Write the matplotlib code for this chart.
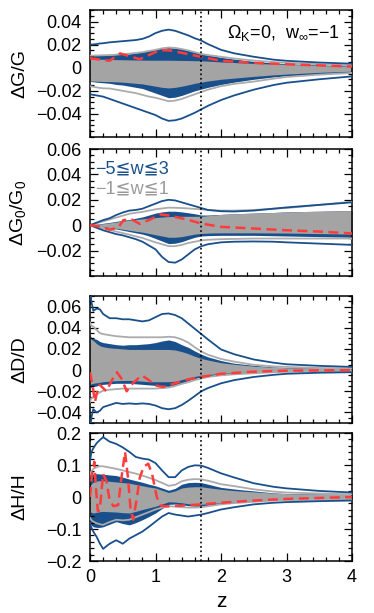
import matplotlib
matplotlib.use("Agg")
import matplotlib.pyplot as plt
from matplotlib.ticker import MultipleLocator, FixedLocator, FuncFormatter

plt.rcParams['font.family'] = ['Liberation Sans', 'DejaVu Sans']
plt.rcParams['mathtext.default'] = 'regular'

# common redshift grid of the bands
z = [0, 0.02, 0.05, 0.1, 0.15, 0.2, 0.3, 0.4, 0.5, 0.6, 0.7, 0.8, 0.9, 1.0, 1.1,
     1.2, 1.3, 1.4, 1.5, 1.6, 1.7, 1.8, 2.0, 2.2, 2.5, 2.8, 3.0, 3.5, 4.0]

# ---- panel 1: dG/G
g_blue_hi = [0.020, 0.0201, 0.0202, 0.0205, 0.021, 0.0212, 0.022, 0.0225, 0.023, 0.0235, 0.024, 0.025, 0.027, 0.030, 0.032,
             0.033, 0.032, 0.030, 0.028, 0.0255, 0.0235, 0.0205, 0.0155, 0.0125, 0.0095, 0.007, 0.006, 0.0045, 0.0035]
g_blue_lo = [-0.023, -0.0232, -0.0235, -0.024, -0.0245, -0.025, -0.027, -0.029, -0.031, -0.033, -0.035, -0.037, -0.039, -0.041, -0.044,
             -0.046, -0.0455, -0.044, -0.0415, -0.039, -0.036, -0.033, -0.028, -0.024, -0.019, -0.015, -0.013, -0.010, -0.0075]
g_gray_hi = [0.0105, 0.0105, 0.0105, 0.0106, 0.0107, 0.0108, 0.011, 0.0113, 0.0118, 0.0122, 0.0128, 0.0135, 0.0145, 0.0155, 0.0168,
             0.0175, 0.0172, 0.0162, 0.015, 0.0135, 0.012, 0.011, 0.0095, 0.008, 0.0062, 0.005, 0.0042, 0.003, 0.002]
g_gray_lo = [-0.016, -0.0162, -0.0165, -0.017, -0.0175, -0.0178, -0.018, -0.019, -0.020, -0.021, -0.022, -0.0235, -0.025, -0.026, -0.0275,
             -0.029, -0.0285, -0.027, -0.025, -0.023, -0.021, -0.019, -0.016, -0.014, -0.012, -0.0095, -0.008, -0.006, -0.0045]
g_bfill_hi = [0.011, 0.011, 0.011, 0.011, 0.011, 0.011, 0.011, 0.0115, 0.0118, 0.012, 0.0128, 0.0135, 0.015, 0.016, 0.017,
              0.0175, 0.017, 0.0165, 0.015, 0.0135, 0.012, 0.011, 0.009, 0.0075, 0.0055, 0.0042, 0.0035, 0.0025, 0.0015]
g_bfill_lo = [-0.012, -0.012, -0.0122, -0.0125, -0.0128, -0.013, -0.0135, -0.0145, -0.015, -0.016, -0.017, -0.018, -0.020, -0.022, -0.024,
              -0.026, -0.0255, -0.024, -0.022, -0.020, -0.0185, -0.017, -0.0145, -0.0125, -0.010, -0.008, -0.007, -0.0055, -0.004]
g_gfill_hi = [0.0078, 0.0077, 0.0076, 0.0075, 0.0074, 0.0073, 0.0072, 0.007, 0.0069, 0.0068, 0.0067, 0.0066, 0.0065, 0.0065, 0.0065,
              0.0065, 0.0064, 0.0063, 0.0062, 0.0061, 0.006, 0.0057, 0.005, 0.0045, 0.0037, 0.0032, 0.003, 0.002, 0.001]
g_gfill_lo = [-0.0115, -0.0115, -0.0116, -0.0117, -0.0118, -0.0119, -0.012, -0.0122, -0.0125, -0.013, -0.0135, -0.014, -0.015, -0.016, -0.017,
              -0.0175, -0.017, -0.016, -0.0148, -0.0135, -0.0125, -0.0115, -0.010, -0.009, -0.0075, -0.0062, -0.0055, -0.004, -0.003]
g_red_z = [0, 0.15, 0.3, 0.46, 0.6, 0.76, 0.92, 1.07, 1.22, 1.48, 1.7, 2.0, 2.5, 3.0, 3.5, 4.0]
g_red = [0.0082, 0.007, 0.006, 0.0124, 0.010, 0.0074, 0.0115, 0.0153, 0.015, 0.012, 0.0094, 0.006, 0.0042, 0.003, 0.002, 0.001]

# ---- panel 2: dG0/G0
g0_blue_hi = [0, 0.0004, 0.001, 0.002, 0.003, 0.004, 0.0055, 0.008, 0.010, 0.0115, 0.012, 0.013, 0.015, 0.017, 0.019,
              0.020, 0.0195, 0.018, 0.0165, 0.015, 0.0135, 0.012, 0.011, 0.0108, 0.0115, 0.013, 0.014, 0.016, 0.018]
g0_blue_lo = [0, -0.0004, -0.001, -0.002, -0.003, -0.004, -0.0055, -0.007, -0.008, -0.0095, -0.011, -0.013, -0.016, -0.019, -0.025,
              -0.029, -0.0295, -0.027, -0.023, -0.019, -0.0165, -0.015, -0.0135, -0.013, -0.0128, -0.013, -0.0135, -0.0145, -0.0155]
g0_gray_hi = [0, 0.0003, 0.0008, 0.0015, 0.0022, 0.003, 0.0045, 0.006, 0.0075, 0.009, 0.0098, 0.0105, 0.0115, 0.0125, 0.0132,
              0.0138, 0.0137, 0.0135, 0.0132, 0.0128, 0.0125, 0.012, 0.0115, 0.0115, 0.012, 0.013, 0.0135, 0.016, 0.0185]
g0_gray_lo = [0, -0.0003, -0.0006, -0.0012, -0.0018, -0.0025, -0.0038, -0.005, -0.0062, -0.0075, -0.0088, -0.010, -0.0118, -0.0135, -0.015,
              -0.0165, -0.0165, -0.0155, -0.014, -0.013, -0.012, -0.0115, -0.011, -0.0108, -0.0105, -0.0105, -0.0105, -0.0105, -0.0105]
g0_bfill_hi = [0, 0.0002, 0.0004, 0.0008, 0.0011, 0.0015, 0.0022, 0.003, 0.0038, 0.0045, 0.0055, 0.0065, 0.008, 0.0095, 0.0105,
               0.011, 0.011, 0.0105, 0.0098, 0.009, 0.008, 0.008, 0.0085, 0.009, 0.0095, 0.010, 0.0105, 0.011, 0.0115]
g0_bfill_lo = [0, -0.0002, -0.0004, -0.0008, -0.0011, -0.0015, -0.0022, -0.003, -0.004, -0.005, -0.006, -0.007, -0.0085, -0.0105, -0.0125,
               -0.0145, -0.0142, -0.013, -0.0112, -0.0095, -0.0085, -0.0082, -0.008, -0.008, -0.008, -0.0083, -0.0085, -0.009, -0.0095]
g0_gfill_hi = [0, 0.0001, 0.0003, 0.0006, 0.0009, 0.0012, 0.0018, 0.0025, 0.0032, 0.004, 0.0045, 0.005, 0.0055, 0.006, 0.0064,
               0.0068, 0.0069, 0.007, 0.007, 0.007, 0.007, 0.0075, 0.0085, 0.009, 0.0095, 0.010, 0.0105, 0.011, 0.0115]
g0_gfill_lo = [0, -0.0001, -0.0003, -0.0006, -0.0009, -0.0012, -0.0018, -0.0025, -0.0032, -0.004, -0.0048, -0.0055, -0.0065, -0.0075, -0.0085,
               -0.0095, -0.0095, -0.009, -0.008, -0.007, -0.0065, -0.0062, -0.006, -0.006, -0.006, -0.0061, -0.0062, -0.0066, -0.007]
g0_red_z = [0, 0.15, 0.3, 0.43, 0.51, 0.64, 0.76, 0.92, 1.07, 1.2, 1.48, 1.7, 2.0, 2.5, 3.0, 3.5, 4.0]
g0_red = [0, -0.001, -0.0035, -0.002, 0.004, 0.0045, 0.001, 0.0045, 0.0085, 0.0077, 0.0045, 0.0013, -0.0013, -0.0026, -0.004, -0.005, -0.0065]

# ---- panel 3: dD/D
d_blue_hi = [0.08, 0.065, 0.056, 0.058, 0.0575, 0.053, 0.049, 0.049, 0.048, 0.048, 0.047, 0.046, 0.047, 0.050, 0.053,
             0.0535, 0.052, 0.049, 0.044, 0.039, 0.034, 0.029, 0.0195, 0.015, 0.010, 0.007, 0.0055, 0.004, 0.003]
d_blue_lo = [-0.06, -0.045, -0.037, -0.040, -0.0385, -0.035, -0.033, -0.031, -0.032, -0.0315, -0.032, -0.0315, -0.032, -0.0335, -0.036,
             -0.037, -0.036, -0.033, -0.029, -0.0245, -0.020, -0.017, -0.0125, -0.0095, -0.0065, -0.0045, -0.0035, -0.0025, -0.002]
d_gray_hi = [0.045, 0.042, 0.041, 0.038, 0.035, 0.034, 0.033, 0.032, 0.0315, 0.031, 0.031, 0.031, 0.031, 0.031, 0.031,
             0.0315, 0.031, 0.029, 0.026, 0.0215, 0.0175, 0.0145, 0.0105, 0.008, 0.005, 0.0035, 0.003, 0.002, 0.0015]
d_gray_lo = [-0.03, -0.027, -0.0255, -0.023, -0.021, -0.0195, -0.0185, -0.018, -0.0175, -0.0175, -0.0175, -0.0175, -0.0175, -0.0175, -0.017,
             -0.0165, -0.015, -0.013, -0.0115, -0.0095, -0.008, -0.0065, -0.005, -0.004, -0.003, -0.002, -0.0017, -0.0012, -0.001]
d_bfill_hi = [0.033, 0.031, 0.030, 0.029, 0.027, 0.026, 0.025, 0.024, 0.0235, 0.024, 0.024, 0.0245, 0.025, 0.026, 0.0275,
              0.0285, 0.027, 0.024, 0.0215, 0.018, 0.015, 0.0125, 0.009, 0.0065, 0.0045, 0.003, 0.0025, 0.002, 0.0015]
d_bfill_lo = [-0.017, -0.016, -0.0155, -0.015, -0.014, -0.0135, -0.013, -0.0125, -0.0125, -0.0125, -0.013, -0.0135, -0.014, -0.0145, -0.015,
              -0.0155, -0.0145, -0.012, -0.010, -0.008, -0.0065, -0.0055, -0.004, -0.003, -0.0022, -0.0015, -0.0012, -0.001, -0.0008]
d_gfill_hi = [0.031, 0.029, 0.028, 0.025, 0.023, 0.022, 0.021, 0.0205, 0.020, 0.0195, 0.0195, 0.0195, 0.0195, 0.0195, 0.0195,
              0.0195, 0.019, 0.0175, 0.0155, 0.013, 0.011, 0.0095, 0.007, 0.0055, 0.0037, 0.0027, 0.0022, 0.0018, 0.0014]
d_gfill_lo = [-0.0135, -0.013, -0.0125, -0.012, -0.0115, -0.011, -0.0105, -0.010, -0.0098, -0.0098, -0.010, -0.0105, -0.011, -0.011, -0.011,
              -0.011, -0.0105, -0.009, -0.0075, -0.006, -0.005, -0.0042, -0.0032, -0.0025, -0.0018, -0.0013, -0.0011, -0.0009, -0.0007]
d_red_z = [0, 0.04, 0.076, 0.11, 0.15, 0.25, 0.33, 0.41, 0.48, 0.56, 0.66, 0.79, 0.89, 0.99, 1.12, 1.27, 1.48, 1.7, 2.0, 2.5, 3.0, 4.0]
d_red = [-0.002, -0.015, -0.03, -0.02, -0.014, -0.02, -0.01, -0.002, -0.008, -0.02, -0.012, -0.005, -0.009, -0.0144, -0.016, -0.013,
         -0.009, -0.0064, -0.0035, -0.0015, -0.0006, 0.0]

# ---- panel 4: dH/H
h_blue_hi = [0.11, 0.14, 0.152, 0.168, 0.178, 0.187, 0.173, 0.166, 0.155, 0.141, 0.125, 0.12, 0.117, 0.106, 0.083,
             0.062, 0.062, 0.083, 0.094, 0.099, 0.098, 0.091, 0.074, 0.061, 0.043, 0.032, 0.027, 0.019, 0.014]
h_blue_lo = [-0.08, -0.095, -0.108, -0.124, -0.145, -0.162, -0.146, -0.135, -0.146, -0.13, -0.119, -0.108, -0.093, -0.077, -0.061,
             -0.05, -0.055, -0.058, -0.061, -0.058, -0.055, -0.05, -0.039, -0.032, -0.023, -0.018, -0.016, -0.013, -0.011]
h_gray_hi = [0.07, 0.08, 0.088, 0.093, 0.096, 0.096, 0.092, 0.088, 0.083, 0.078, 0.073, 0.067, 0.06, 0.053, 0.044,
             0.035, 0.038, 0.049, 0.054, 0.056, 0.055, 0.051, 0.040, 0.034, 0.024, 0.017, 0.014, 0.011, 0.0085]
h_gray_lo = [-0.065, -0.072, -0.077, -0.082, -0.085, -0.087, -0.078, -0.071, -0.073, -0.071, -0.063, -0.055, -0.047, -0.039, -0.033,
             -0.029, -0.030, -0.032, -0.033, -0.033, -0.032, -0.029, -0.023, -0.019, -0.015, -0.011, -0.010, -0.0085, -0.0075]
h_bfill_hi = [0.06, 0.068, 0.072, 0.073, 0.072, 0.071, 0.069, 0.067, 0.062, 0.056, 0.051, 0.046, 0.04, 0.035, 0.028,
              0.021, 0.027, 0.04, 0.045, 0.046, 0.045, 0.04, 0.030, 0.025, 0.019, 0.013, 0.011, 0.0095, 0.0085]
h_bfill_lo = [-0.08, -0.088, -0.093, -0.095, -0.095, -0.093, -0.085, -0.077, -0.083, -0.087, -0.08, -0.071, -0.061, -0.05, -0.036,
              -0.023, -0.022, -0.024, -0.027, -0.029, -0.029, -0.026, -0.021, -0.017, -0.013, -0.01, -0.009, -0.008, -0.0075]
h_gfill_hi = [0.035, 0.042, 0.046, 0.05, 0.051, 0.051, 0.049, 0.047, 0.045, 0.043, 0.039, 0.035, 0.031, 0.028, 0.021,
              0.014, 0.019, 0.028, 0.031, 0.032, 0.032, 0.029, 0.024, 0.02, 0.016, 0.012, 0.0105, 0.009, 0.0085]
h_gfill_lo = [-0.045, -0.048, -0.05, -0.048, -0.046, -0.045, -0.046, -0.047, -0.049, -0.05, -0.045, -0.039, -0.034, -0.029, -0.022,
              -0.015, -0.016, -0.018, -0.021, -0.023, -0.023, -0.021, -0.018, -0.015, -0.011, -0.009, -0.008, -0.0075, -0.007]
h_red_z = [0, 0.03, 0.066, 0.09, 0.12, 0.15, 0.2, 0.25, 0.3, 0.36, 0.43, 0.48, 0.535, 0.58, 0.62, 0.66, 0.71, 0.76, 0.82, 0.89,
           0.95, 1.02, 1.07, 1.12, 1.2, 1.4, 1.7, 2.0, 2.5, 3.0, 3.5, 4.0]
h_red = [0, 0.07, 0.11, 0.03, -0.045, -0.04, 0.072, 0.05, -0.01, -0.029, -0.025, 0.06, 0.141, 0.06, -0.04, -0.071, -0.01, 0.06,
         0.095, 0.104, 0.07, 0.0, -0.025, -0.029, -0.029, -0.027, -0.023, -0.018, -0.011, -0.006, -0.003, 0.0]

z_mark = 1.7

BLUE = '#19508c'
GRAY_FILL = '#a4a4a4'
GRAY_LINE = '#ababab'
RED = '#ff3b3b'

panels = [
    dict(bh=g_blue_hi, bl=g_blue_lo, gh=g_gray_hi, gl=g_gray_lo, bfh=g_bfill_hi, bfl=g_bfill_lo,
         gfh=g_gfill_hi, gfl=g_gfill_lo, rz=g_red_z, r=g_red, ylim=(-0.06, 0.05),
         major=[-0.04, -0.02, 0, 0.02, 0.04], minor=0.005, label='ΔG/G'),
    dict(bh=g0_blue_hi, bl=g0_blue_lo, gh=g0_gray_hi, gl=g0_gray_lo, bfh=g0_bfill_hi, bfl=g0_bfill_lo,
         gfh=g0_gfill_hi, gfl=g0_gfill_lo, rz=g0_red_z, r=g0_red, ylim=(-0.04, 0.06),
         major=[-0.02, 0, 0.02, 0.04, 0.06], minor=0.005, label='ΔG$_0$/G$_0$'),
    dict(bh=d_blue_hi, bl=d_blue_lo, gh=d_gray_hi, gl=d_gray_lo, bfh=d_bfill_hi, bfl=d_bfill_lo,
         gfh=d_gfill_hi, gfl=d_gfill_lo, rz=d_red_z, r=d_red, ylim=(-0.05, 0.07),
         major=[-0.04, -0.02, 0, 0.02, 0.04, 0.06], minor=0.005, label='ΔD/D'),
    dict(bh=h_blue_hi, bl=h_blue_lo, gh=h_gray_hi, gl=h_gray_lo, bfh=h_bfill_hi, bfl=h_bfill_lo,
         gfh=h_gfill_hi, gfl=h_gfill_lo, rz=h_red_z, r=h_red, ylim=(-0.2, 0.2),
         major=[-0.2, -0.1, 0, 0.1, 0.2], minor=0.02, label='ΔH/H'),
]

# axes boxes in figure pixels (top, bottom)
boxes = [(10, 137), (149, 276), (296, 423), (433, 561)]
W, H = 374, 613


def fmt(v, pos):
    if abs(v) < 1e-9:
        return '0'
    s = ('%.2f' % v) if abs(v) < 0.095 else ('%.1f' % v)
    return s.replace('-', '\u2212')


fig = plt.figure(figsize=(W / 100, H / 100), dpi=100)
axes = []
for p, (top, bot) in zip(panels, boxes):
    ax = fig.add_axes([90 / W, 1 - bot / H, 262 / W, (bot - top) / H])
    ax.fill_between(z, p['bfl'], p['bfh'], color=BLUE, lw=0, zorder=1)
    ax.fill_between(z, p['gfl'], p['gfh'], color=GRAY_FILL, lw=0, zorder=2)
    ax.plot(z, p['gh'], color=GRAY_LINE, lw=1.3, zorder=3)
    ax.plot(z, p['gl'], color=GRAY_LINE, lw=1.3, zorder=3)
    ax.plot(z, p['bh'], color=BLUE, lw=1.3, zorder=3)
    ax.plot(z, p['bl'], color=BLUE, lw=1.3, zorder=3)
    ax.plot(p['rz'], p['r'], color=RED, lw=1.8, ls=(0, (4, 2.2)), zorder=4)
    ax.axvline(z_mark, color='black', ls=':', lw=1.2, zorder=5)

    ax.set_xlim(0, 4)
    ax.set_ylim(*p['ylim'])
    ax.xaxis.set_major_locator(MultipleLocator(1))
    ax.xaxis.set_minor_locator(MultipleLocator(0.2))
    ax.yaxis.set_major_locator(FixedLocator(p['major']))
    ax.yaxis.set_minor_locator(MultipleLocator(p['minor']))
    ax.yaxis.set_major_formatter(FuncFormatter(fmt))
    ax.tick_params(which='both', direction='in', top=True, right=True, width=0.9, labelsize=13, pad=6)
    ax.tick_params(which='major', length=6)
    ax.tick_params(which='minor', length=3)
    for s in ax.spines.values():
        s.set_linewidth(1.1)
    ax.set_ylabel(p['label'], fontsize=14)
    ax.yaxis.set_label_coords(-0.235, 0.5)
    axes.append(ax)

for ax in axes[:-1]:
    ax.tick_params(labelbottom=False)
axes[-1].set_xlabel('z', fontsize=15, labelpad=4)
axes[-1].xaxis.set_major_formatter(FuncFormatter(lambda v, pos: '%d' % v))

axes[0].text(0.955, 0.82, 'Ω$_K$=0,  w$_∞$=\u22121', transform=axes[0].transAxes,
             ha='right', va='center', fontsize=13)
axes[1].text(0.02, 0.84, '\u22125≦w≦3', color=BLUE, transform=axes[1].transAxes,
             ha='left', va='center', fontsize=13)
axes[1].text(0.02, 0.685, '\u22121≦w≦1', color='#9a9a9a', transform=axes[1].transAxes,
             ha='left', va='center', fontsize=13)

fig.savefig('out.png', dpi=100)
